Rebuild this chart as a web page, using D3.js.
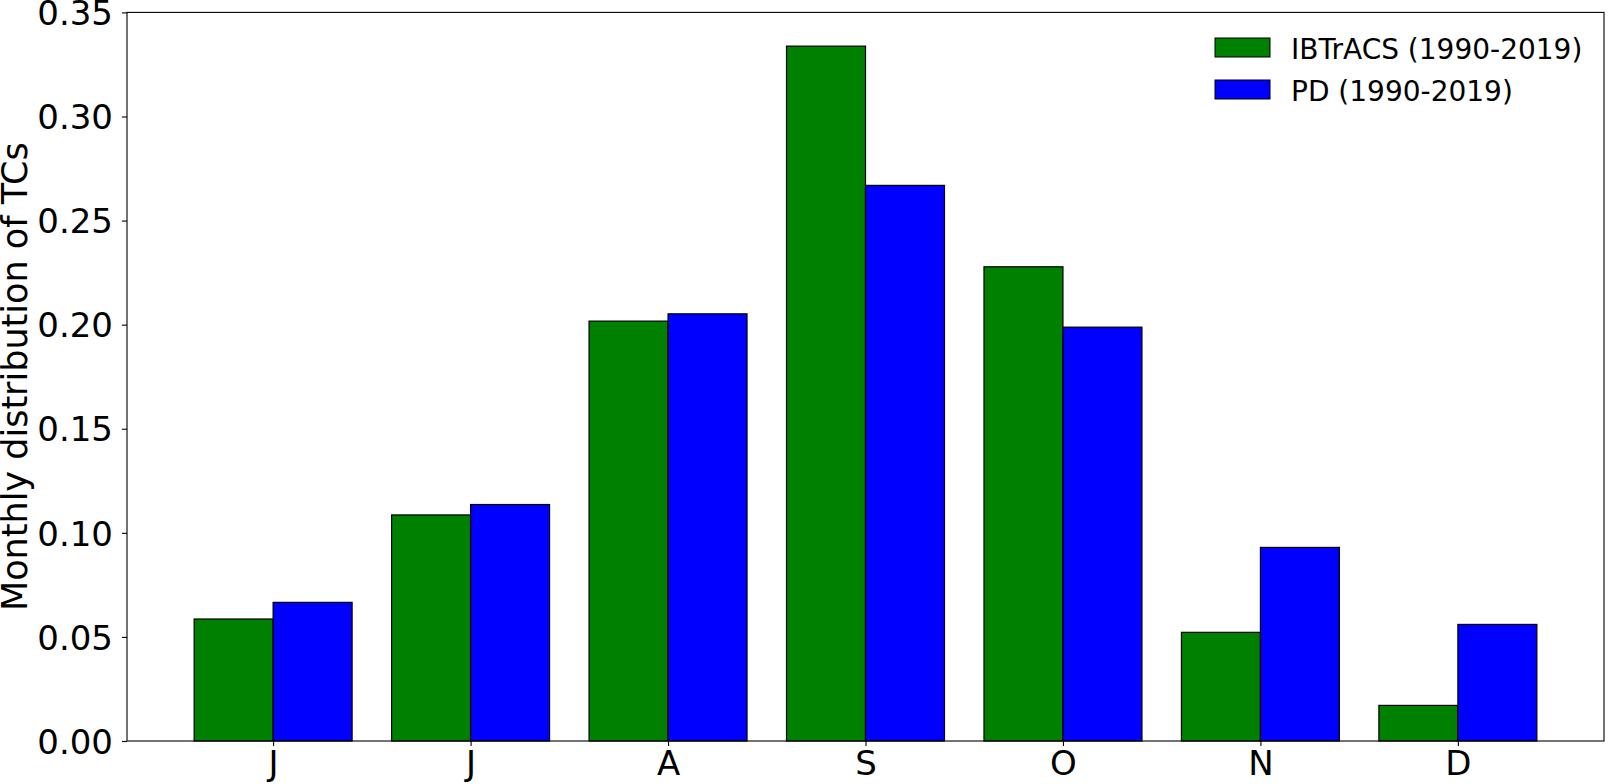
<!DOCTYPE html>
<html>
<head>
<meta charset="utf-8">
<script src="https://cdn.jsdelivr.net/npm/d3@7"></script>
<style>
  html, body { margin: 0; padding: 0; background: #fff; }
  svg { display: block; }
  text { font-family: "DejaVu Sans", sans-serif; fill: #000; }
</style>
</head>
<body>
<svg id="chart" width="1608" height="784"></svg>
<script>
const months = ["J", "J", "A", "S", "O", "N", "D"];
const ibtracs = [0.0586, 0.1086, 0.2017, 0.3338, 0.2278, 0.0522, 0.0171];
const pd = [0.0666, 0.1136, 0.2052, 0.2669, 0.1988, 0.0930, 0.0560];
const seriesNames = ["IBTrACS (1990-2019)", "PD (1990-2019)"];
const seriesColors = ["#008000", "#0000ff"];
const yTicks = [0.00, 0.05, 0.10, 0.15, 0.20, 0.25, 0.30, 0.35];

const svg = d3.select("#chart");
const L = 127, R = 1604, T = 12.4, B = 741;

const idx = months.map((d, i) => i);
const x = d3.scaleLinear().domain([-0.74, 6.74]).range([L, R]);
const y = d3.scaleLinear().domain([0, 0.35]).range([B, T]);
const bw = 0.4;

const series = [ibtracs, pd];
series.forEach((vals, s) => {
  svg.append("g").selectAll("rect").data(vals).join("rect")
    .attr("x", (d, i) => x(i - bw + s * bw))
    .attr("width", x(bw) - x(0))
    .attr("y", d => y(d))
    .attr("height", d => y(0) - y(d))
    .attr("fill", seriesColors[s])
    .attr("stroke", "#000")
    .attr("stroke-width", 1.2);
});

// frame
svg.append("rect").attr("x", L).attr("y", T).attr("width", R - L).attr("height", B - T)
  .attr("fill", "none").attr("stroke", "#000").attr("stroke-width", 1.1);

// y axis
const yAxis = d3.axisLeft(y).tickValues(yTicks).tickFormat(d3.format(".2f")).tickSize(5).tickPadding(9);
const gy = svg.append("g").attr("transform", `translate(${L},0)`).call(yAxis);
gy.select(".domain").remove();
gy.selectAll("line").attr("stroke", "#000").attr("stroke-width", 1.1);
gy.selectAll("text").style("font-size", "34px").attr("dy", "0.36em");

// x axis
const xAxis = d3.axisBottom(x).tickValues(idx).tickFormat(i => months[i]).tickSize(5).tickPadding(5);
const gx = svg.append("g").attr("transform", `translate(0,${B})`).call(xAxis);
gx.select(".domain").remove();
gx.selectAll("line").attr("stroke", "#000").attr("stroke-width", 1.1);
gx.selectAll("text").style("font-size", "34px");
svg.selectAll("g").attr("font-family", null);

// y label
svg.append("text")
  .attr("transform", `translate(27,${(T + B) / 2}) rotate(-90)`)
  .attr("text-anchor", "middle")
  .style("font-size", "35px")
  .text("Monthly distribution of TCs");

// legend
const lg = svg.append("g");
seriesNames.forEach((name, s) => {
  const yy = 38 + s * 42;
  lg.append("rect").attr("x", 1215).attr("y", yy).attr("width", 55).attr("height", 19)
    .attr("fill", seriesColors[s]).attr("stroke", "#000").attr("stroke-width", 1);
  lg.append("text").attr("x", 1291).attr("y", yy + 20.5).style("font-size", "28px").text(name);
});
</script>
</body>
</html>
